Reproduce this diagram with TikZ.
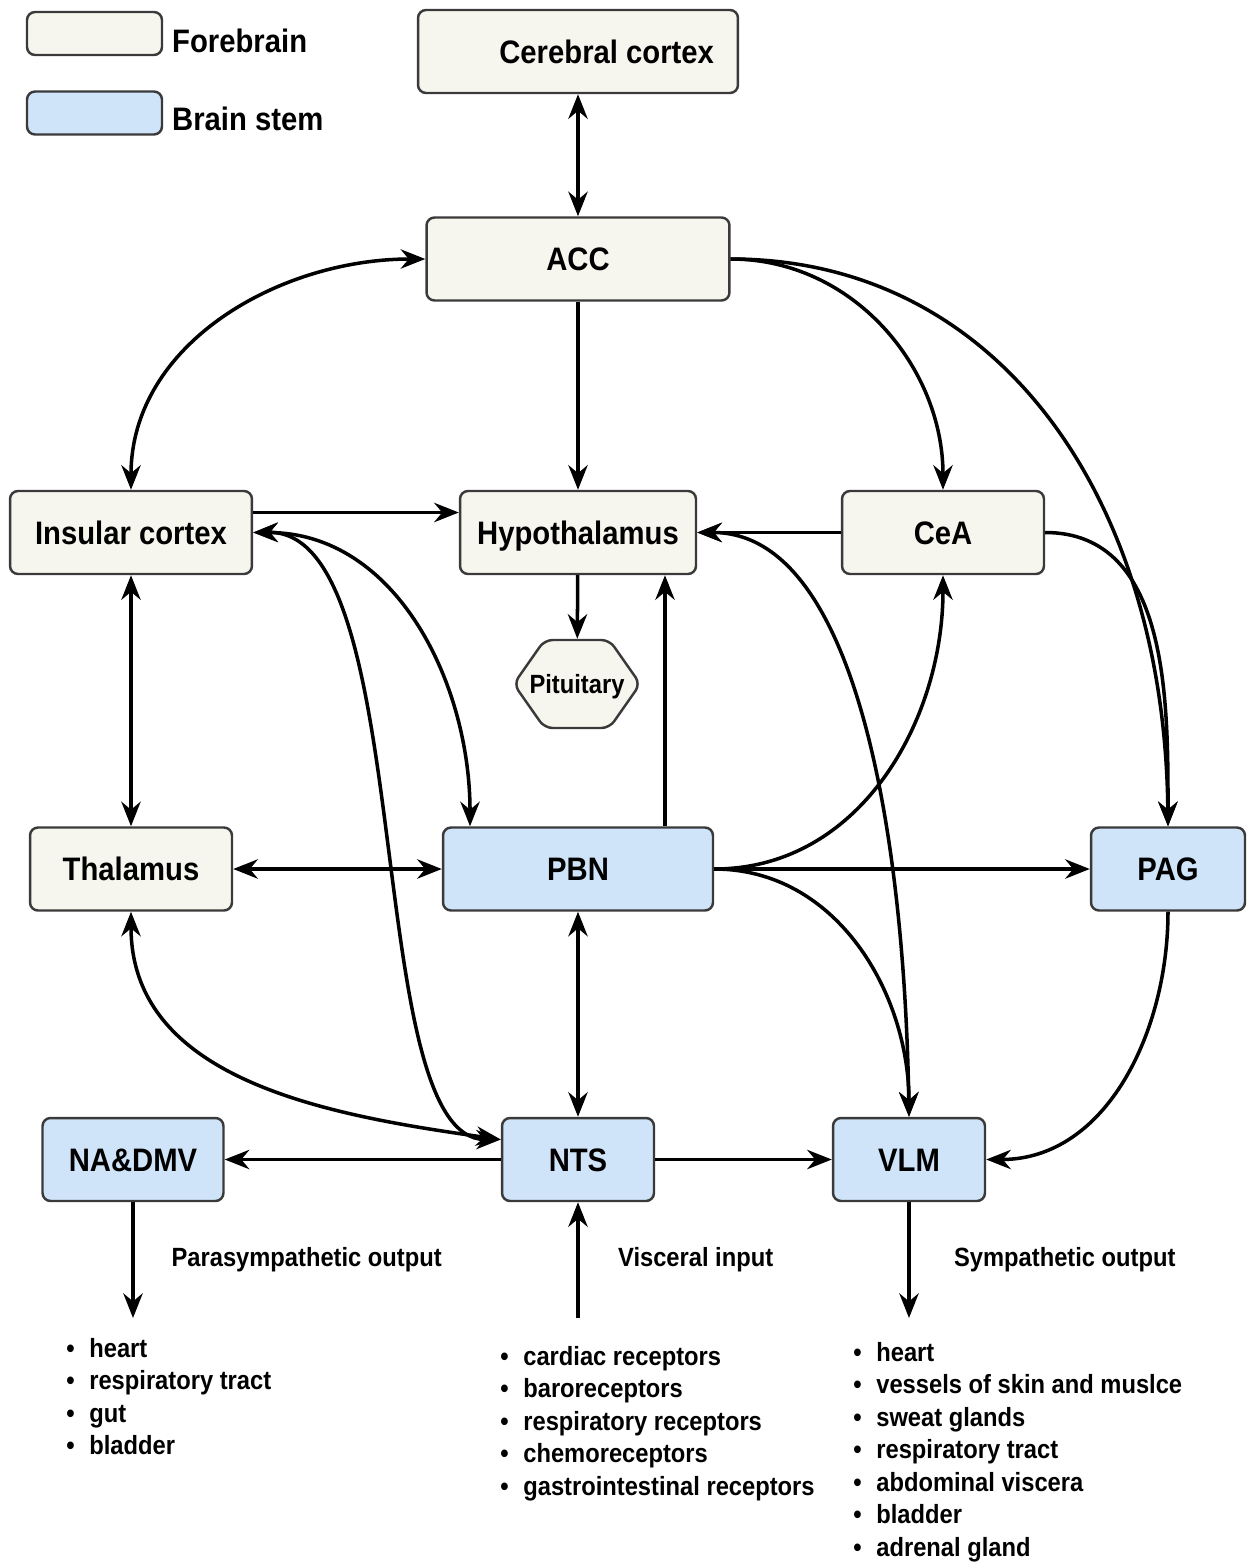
\documentclass[tikz,border=0pt]{standalone}
\usepackage{fontspec}
\setmainfont{Liberation Sans}[FakeStretch=0.9]
\usetikzlibrary{arrows.meta,positioning,shapes.symbols}
\definecolor{forefill}{HTML}{F7F6EE}
\definecolor{stemfill}{HTML}{CFE4F8}
\definecolor{boxline}{HTML}{3A3A3A}
\newcommand{\blt}{\makebox[0.46cm][l]{\textbullet}}
\tikzset{
  box/.style={draw=boxline, line width=1.4pt, rounded corners=0.16cm,
    minimum height=1.66cm, text height=13.3pt, text depth=0pt,
    font=\fontsize{18.5}{22}\selectfont\bfseries},
  fore/.style={box, fill=forefill},
  stem/.style={box, fill=stemfill},
  arr/.style={-{Stealth[length=14pt,width=11pt]}, line width=2pt},
  biarr/.style={{Stealth[length=14pt,width=11pt]}-{Stealth[length=14pt,width=11pt]}, line width=2pt},
  outlbl/.style={font=\fontsize{15}{18}\selectfont\bfseries},
  organs/.style={anchor=north west, inner sep=0pt, align=left,
    font=\fontsize{15}{18.5}\selectfont\bfseries}
}
\begin{document}
\begin{tikzpicture}[x=0.02cm,y=-0.02cm]
\useasboundingbox (0,0) rectangle (1247,1562);

\node[fore, minimum width=2.7cm, minimum height=0.86cm] (forekey) at (94.5,33.5) {};
\node[stem, minimum width=2.7cm, minimum height=0.86cm] (stemkey) at (94.5,113) {};
\node[box, draw=none, anchor=west, inner xsep=0pt] (foretxt) at (171,41) {Forebrain};
\node[box, draw=none, anchor=west, inner xsep=0pt] (stemtxt) at (171,119) {Brain stem};

\node[fore, text width=5.44cm, inner xsep=0.48cm, align=flush right] (cortex) at (578,51.5) {Cerebral cortex};
\node[fore, minimum width=6.06cm] (acc) at (578,259) {ACC};
\node[fore, minimum width=4.84cm] (insular) at (131,532.5) {Insular cortex};
\node[fore, minimum width=4.72cm] (hypo) at (578,532.5) {Hypothalamus};
\node[fore, minimum width=4.04cm] (cea) at (943,532.5) {CeA};
\node[fore, signal, signal to=west and east, signal pointer angle=110, inner xsep=-0.3cm,
  minimum height=1.76cm, text height=10.8pt, font=\fontsize{15}{18}\selectfont\bfseries] (pit) at (577,684) {Pituitary};
\node[fore, minimum width=4.04cm] (thalamus) at (131,869) {Thalamus};
\node[stem, minimum width=5.4cm] (pbn) at (578,869) {PBN};
\node[stem, minimum width=3.08cm] (pag) at (1168,869) {PAG};
\node[stem, minimum width=3.62cm] (nadmv) at (133,1159.5) {NA\&DMV};
\node[stem, minimum width=3.04cm] (nts) at (578,1159.5) {NTS};
\node[stem, minimum width=3.04cm] (vlm) at (909,1159.5) {VLM};

\coordinate (paraout) at (133,1318);
\coordinate (viscin) at (578,1318);
\coordinate (symout) at (909,1318);

\node[organs] (paralist) at (66,1338) {\blt heart\\ \blt respiratory tract\\ \blt gut\\ \blt bladder};
\node[organs] (visclist) at (500,1346) {\blt cardiac receptors\\ \blt baroreceptors\\ \blt respiratory receptors\\ \blt chemoreceptors\\ \blt gastrointestinal receptors};
\node[organs] (symlist) at (853,1342) {\blt heart\\ \blt vessels of skin and muslce\\ \blt sweat glands\\ \blt respiratory tract\\ \blt abdominal viscera\\ \blt bladder\\ \blt adrenal gland};

\draw[biarr] (cortex) -- (acc);
\draw[biarr] (acc.west) to[out=180,in=90] (insular.north);
\draw[arr] (acc) -- (hypo);
\draw[arr] (acc.east) to[out=0,in=90] (cea.north);
\draw[arr] (acc.east) .. controls (1000,259) and (1165,500) .. (pag.north);
\draw[arr] ([yshift=0.4cm]insular.east) -- ([yshift=0.4cm]hypo.west);
\draw[arr] (cea) -- (hypo);
\draw[arr] (hypo) -- (pit);
\draw[arr] ([xshift=1.74cm]pbn.north) -- ([xshift=1.74cm]hypo.south);
\draw[biarr] (insular.east) to[out=0,in=90] ([xshift=-2.16cm]pbn.north);
\draw[biarr] (insular.east) .. controls (420,530) and (360,1140) .. ([yshift=0.4cm]nts.west);
\draw[biarr] (insular) -- (thalamus);
\draw[biarr] (thalamus) -- (pbn);
\draw[biarr] (thalamus.south) to[out=-90,in=172] ([yshift=0.4cm]nts.west);
\draw[arr] (pbn) -- (pag);
\draw[arr] (pbn.east) to[out=0,in=-90] (cea.south);
\draw[arr] (pbn.east) to[out=0,in=90] (vlm.north);
\draw[biarr] (hypo.east) .. controls (860,532) and (905,850) .. (vlm.north);
\draw[arr] (cea.east) to[out=0,in=90] (pag.north);
\draw[arr] (pag.south) to[out=-90,in=0] (vlm.east);
\draw[biarr] (pbn) -- (nts);
\draw[arr] (nts) -- (nadmv);
\draw[arr] (nts) -- (vlm);
\draw[arr] (nadmv) -- (paraout) node[midway,right=0.62cm,outlbl] {Parasympathetic output};
\draw[arr] (viscin) -- (nts) node[midway,right=0.65cm,outlbl] {Visceral input};
\draw[arr] (vlm) -- (symout) node[midway,right=0.75cm,outlbl] {Sympathetic output};
\end{tikzpicture}
\end{document}
